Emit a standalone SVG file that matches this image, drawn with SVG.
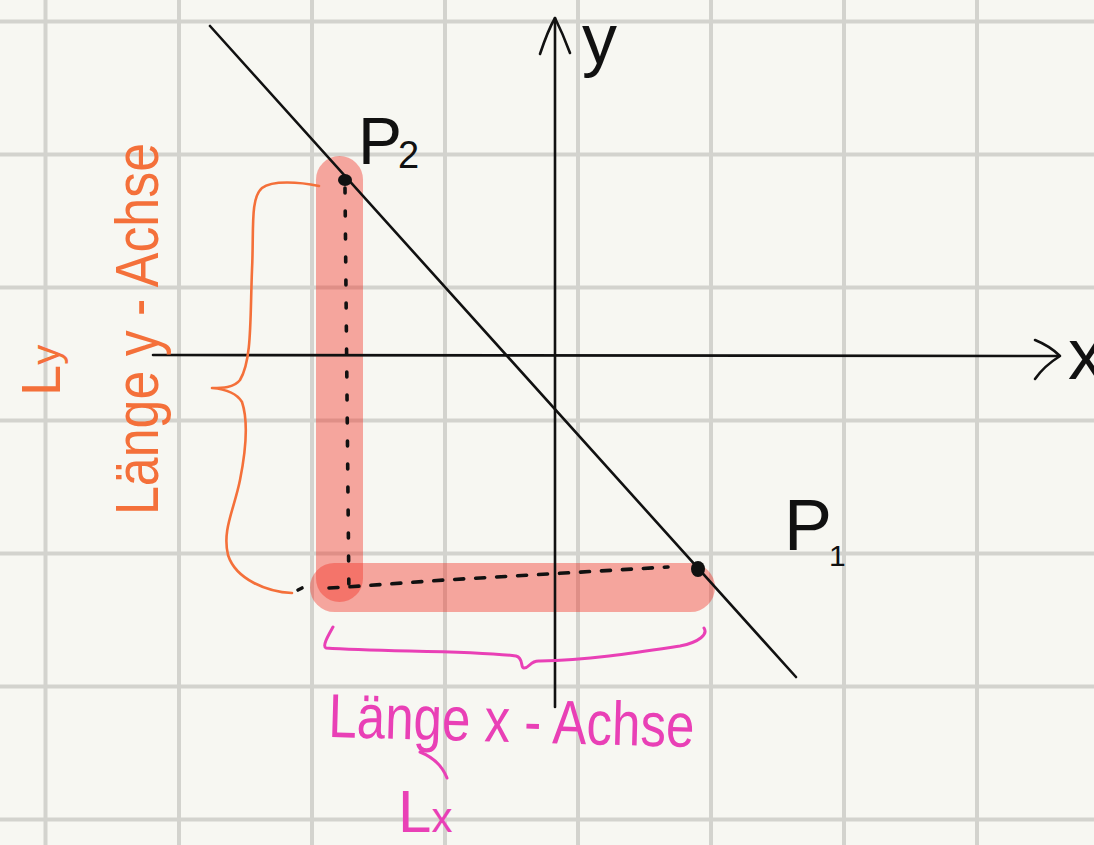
<svg xmlns="http://www.w3.org/2000/svg" width="1094" height="845" viewBox="0 0 1094 845">
  <defs>
    <style>
      .grid line { stroke: #d3d3ce; stroke-width: 4; }
      .ink { fill: none; stroke: #111; stroke-width: 2.6; stroke-linecap: round; stroke-linejoin: round; }
      .band { fill: none; stroke: #f22a1e; stroke-opacity: 0.4; stroke-linecap: round; }
      .dots { fill: none; stroke: #111; stroke-width: 3.6; stroke-linecap: round; }
      .orange { fill: none; stroke: #f4703a; stroke-width: 2.6; stroke-linecap: round; stroke-linejoin: round; }
      .pink { fill: none; stroke: #e940b6; stroke-width: 3; stroke-linecap: round; stroke-linejoin: round; }
      .hand { font-family: "Liberation Sans", "DejaVu Sans", sans-serif; }
      .tblack { fill: #111; }
      .torange { fill: #f4703a; }
      .tpink { fill: #e940b6; }
    </style>
  </defs>
  <rect width="1094" height="845" fill="#f7f7f2"/>
  <g id="grid" class="grid">
    <line x1="45.5" y1="0" x2="45.5" y2="845"/>
    <line x1="179" y1="0" x2="179" y2="845"/>
    <line x1="312" y1="0" x2="312" y2="845"/>
    <line x1="445" y1="0" x2="445" y2="845"/>
    <line x1="578" y1="0" x2="578" y2="845"/>
    <line x1="711" y1="0" x2="711" y2="845"/>
    <line x1="844" y1="0" x2="844" y2="845"/>
    <line x1="977" y1="0" x2="977" y2="845"/>
    <line x1="0" y1="21.5" x2="1094" y2="21.5"/>
    <line x1="0" y1="154.5" x2="1094" y2="154.5"/>
    <line x1="0" y1="287.5" x2="1094" y2="287.5"/>
    <line x1="0" y1="420.5" x2="1094" y2="420.5"/>
    <line x1="0" y1="553.5" x2="1094" y2="553.5"/>
    <line x1="0" y1="686.5" x2="1094" y2="686.5"/>
    <line x1="0" y1="819.5" x2="1094" y2="819.5"/>
  </g>
  <g id="highlight">
    <line class="band" x1="339.5" y1="179.5" x2="339.5" y2="578.5" stroke-width="47"/>
    <line class="band" x1="334.5" y1="587.5" x2="690.5" y2="587.5" stroke-width="49"/>
  </g>
  <g id="axes">
    <path class="ink" d="M153,355 L1059,356"/>
    <path class="ink" d="M1035,340 Q1050,346 1060,356 Q1044,366 1035,379"/>
    <path class="ink" d="M555,707 L555,18"/>
    <path class="ink" d="M540,54 Q548,30 555,18 Q563,34 570,53"/>
    <text class="hand tblack" x="582" y="63" font-size="70">y</text>
    <text class="hand tblack" x="1068" y="379" font-size="72">x</text>
  </g>
  <g id="connectors">
    <path class="ink" d="M210,26 L796,677"/>
    <path class="dots" d="M345,188 L349,600" stroke-dasharray="5 18"/>
    <path class="dots" d="M329,588 L347,587 L445,580 L668,567" stroke-dasharray="9 12"/>
    <path class="dots" d="M298,590 L302,588"/>
  </g>
  <g id="P2">
    <ellipse cx="345" cy="180" rx="7" ry="6" fill="#111"/>
    <text class="hand tblack" x="358" y="164" font-size="66">P<tspan x="398" y="168" font-size="38">2</tspan></text>
  </g>
  <g id="P1">
    <ellipse cx="698" cy="569" rx="7" ry="8" fill="#111"/>
    <text class="hand tblack" x="784" y="550" font-size="72">P<tspan x="829" y="566" font-size="30">1</tspan></text>
  </g>
  <g id="y-length">
    <path class="orange" d="M319,186 C300,182 272,180 262,188 C250,198 254,230 252,270 C250,320 252,360 240,380 C234,388 222,388 212,388 C224,389 236,392 242,402 C248,420 246,450 240,480 C234,510 222,530 228,555 C236,580 268,592 292,593"/>
    <text class="hand torange" transform="translate(158,515) rotate(-90)" font-size="62" textLength="372" lengthAdjust="spacingAndGlyphs">Länge y - Achse</text>
    <text class="hand torange" transform="translate(60,396) rotate(-90)" font-size="56">L<tspan font-size="40">y</tspan></text>
  </g>
  <g id="x-length">
    <path class="pink" d="M333,627 C328,636 322,646 326,648 C380,652 470,650 516,656 C524,658 520,668 524,668 C530,668 530,660 540,661 C590,660 640,652 680,646 C700,642 708,634 704,628"/>
    <text class="hand tpink" transform="rotate(1.6 330 737)" x="328" y="737" font-size="62" textLength="366" lengthAdjust="spacingAndGlyphs">Länge x - Achse</text>
    <path class="pink" d="M420,752 Q440,760 447,778"/>
    <text class="hand tpink" x="398" y="832" font-size="60">L<tspan font-size="42">x</tspan></text>
  </g>
</svg>
